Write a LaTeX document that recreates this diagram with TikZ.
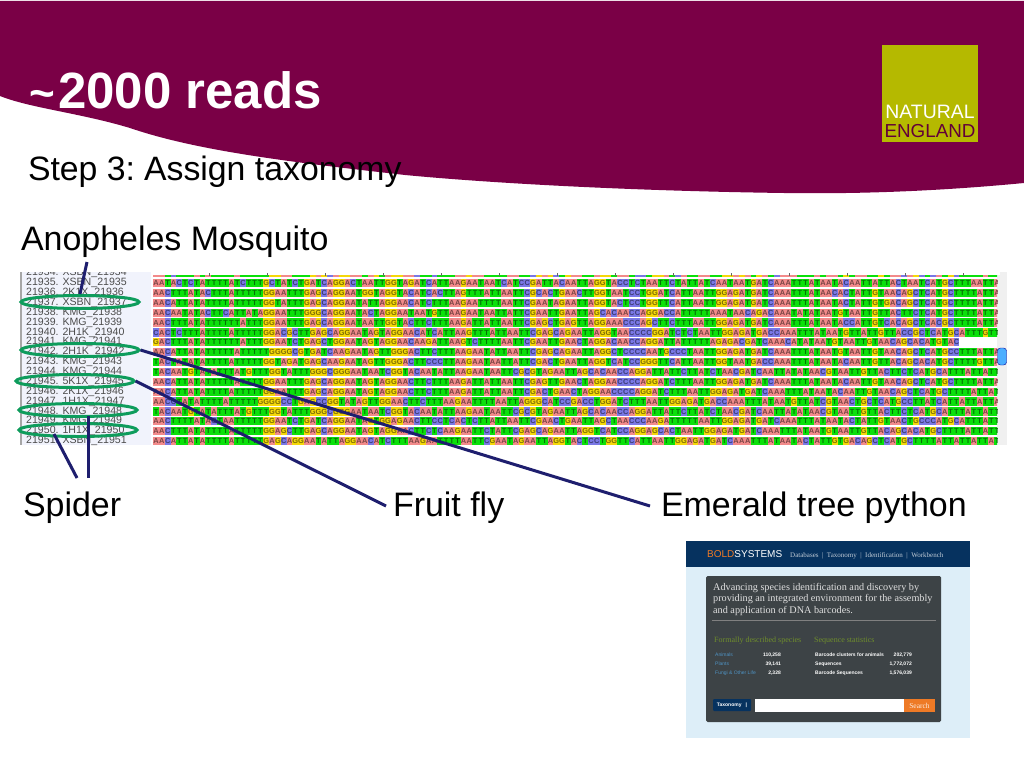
\documentclass[tikz,border=0pt]{standalone}
\usepackage{fontspec}
\usepackage{xcolor}
\setmainfont{Liberation Sans}
\newfontfamily\boldserif{Liberation Serif}
\usetikzlibrary{shapes.geometric}

\definecolor{banner}{HTML}{7A0046}
\definecolor{logoGreen}{HTML}{B5B900}
\definecolor{ringGreen}{HTML}{0E9C5C}
\definecolor{pointerBlue}{HTML}{1E1E6E}
\definecolor{listBack}{HTML}{F1F3FC}
\definecolor{cellA}{HTML}{F28A8A}
\definecolor{cellT}{HTML}{0BE00B}
\definecolor{cellC}{HTML}{7A78E6}
\definecolor{cellG}{HTML}{F5D80A}
\definecolor{boldHead}{HTML}{06325F}
\definecolor{boldSky}{HTML}{DDEEF8}
\definecolor{boldPanel}{HTML}{3D4346}
\definecolor{boldOlive}{HTML}{6F8E2C}
\definecolor{boldLink}{HTML}{4F93C4}
\definecolor{boldOrange}{HTML}{EE7A26}

\newcommand{\seqcell}[1]{\rlap{\textcolor{cell#1}{\rule[-1.5pt]{5.8pt}{8.2pt}}}\makebox[5.8pt]{\textcolor{black!50!cell#1}{#1}}}
\def\seqwalk#1{\ifx#1\relax\else\seqcell{#1}\expandafter\seqwalk\fi}

\begin{document}
\begin{tikzpicture}[x=1pt, y=-1pt]
    \tikzstyle{Slide Text} = [anchor=base west, inner sep=0pt, outer sep=0pt, font=\fontsize{33.95}{34}\selectfont]
    \tikzstyle{Read Ring} = [draw=ringGreen, line width=3pt, ellipse, inner sep=0pt, minimum width=118pt, minimum height=13pt]
    \tikzstyle{Pointer} = [line width=3pt, color=pointerBlue]
    \tikzstyle{Read Name} = [anchor=west, inner sep=0pt, color=black!70, font=\fontsize{10.6}{10.6}\selectfont]
    \tikzstyle{Read Bases} = [anchor=west, inner sep=0pt, font=\fontsize{7.4}{7.4}\selectfont\bfseries]
    \tikzstyle{Bold Small} = [anchor=base west, inner sep=0pt, font=\fontsize{5}{5}\selectfont\bfseries, color=white]
    \tikzstyle{Bold Count} = [Bold Small, anchor=base east]
    \tikzstyle{Bold Blurb} = [anchor=base west, inner sep=0pt, color=white!88!black, font=\boldserif\fontsize{10.2}{10.2}\selectfont]
    \tikzstyle{Bold Menu} = [anchor=base west, inner sep=0pt, color=white!75!boldHead, font=\boldserif\fontsize{7}{7}\selectfont]

    \useasboundingbox (0,0) rectangle (1024,768);
    \fill[white] (0,0) rectangle (1024,768);

    \fill[banner] (0,1) -- (1024,1) -- (1024,183)
        .. controls (930,192) and (850,194) .. (784,193)
        .. controls (640,191) and (500,184) .. (405,175)
        .. controls (300,163) and (200,152) .. (130,128)
        .. controls (80,113) and (30,108) .. (0,96) -- cycle;
    \node[Slide Text, color=white, font=\fontsize{51}{51}\selectfont\bfseries] (title) at (29,108)
        {\makebox[29pt][l]{\fontsize{44}{44}\selectfont\textasciitilde}2000 reads};
    \node[Slide Text, font=\fontsize{33.8}{34}\selectfont] (step) at (28,180) {Step 3:\kern-3.5pt{} Assign taxonomy};

    \node[fill=logoGreen, inner sep=0pt, minimum width=96pt, minimum height=97pt] (logo) at (930,93.5) {};
    \node[text=white, inner sep=0pt, font=\fontsize{19.4}{19.4}\selectfont] (natural) at (930,112) {NATURAL};
    \node[text=banner!80!black, inner sep=0pt, font=\fontsize{18.8}{18.8}\selectfont] (england) at (930,131) {ENGLAND};

    \node[Slide Text] (mosquito) at (21,250) {Anopheles Mosquito};

    \fill[listBack] (20,272) rectangle (151,445);
    \fill[black!35] (20,272) rectangle (22,445);
    \fill[black!6] (997,272) rectangle (1007,445);
    \begin{scope}
        \clip (20,272) rectangle (997,445);
        \foreach \readName/\readBases [count=\i] in {
            21934. XSBN\_21934/AATCTTTATATTTTATTTTTGGAATTTGAGCAGGAATAGTAGGAACTTCTTTAAGAATTTTAATTCGAGCTGAATTAGGTAATCCTGGATCATTAATTGGAGATGATCAAATTTATAATGTAATTGTAACAGCTCATGCTTTTATTAT,
            21935. XSBN\_21935/AATACTCTATTTTATCTTTGCTATCTGATCAGGACTAATTGGTAGATCATTAAGAATAATCATCCGATTACAATTAGGTACCTCTAATTCTATTATCAATAATGATCAAATTTATAATACAATTATTACTAATCATGCTTTAATTAT,
            21936. 2K1X\_21936/AACTTTATACTTTATTTTTGGAATTTGAGCAGGAATGGTAGGTACATCACTTAGTTTATTAATTCGCACTGAACTTGGTAATCCTGGATCATTAATTGGAGATGATCAAATTTATAACACTATTGTAACAGCTCATGCTTTTATTAT,
            21937. XSBN\_21937/AACATTATATTTTATTTTTGGTATTTGAGCAGGAATATTAGGAACATCTTTAAGAATTTTAATTCGAATAGAATTAGGTACTCCTGGTTCATTAATTGGAGATGATCAAATTTATAATACTATTGTGACAGCTCATGCTTTTATTAT,
            21938. KMG\_21938/AACAATATACTTCATTATAGGAATTTGGGCAGGAATACTAGGAATAATGTTAAGAATAATTATTCGAATTGAATTAGCACAACCAGGACCATTTTTAAATAACAGACAAATATATAATGTAATTGTTACTTCTCATGCTTTTATTAT,
            21939. KMG\_21939/AACTTTATATTTTTTATTTGGAATTTGAGCAGGAATAATTGGTACTTCTTTAAGATTATTAATTCGAGCTGAGTTAGGAAACCCAGCTTCTTTAATTGGAGATGATCAAATTTATAATACCATTGTCACAGCTCACGCTTTTATTAT,
            21940. 2H1K\_21940/CACTCTTTATTTTATTTTTGGACGCTTGAGCAGGAATAGTAGGAACATCATTAAGTTTATTAATTCGAGCAGAATTAGGTAACCCCGGATCTCTAATTGGAGATGACCAAATTTATAATGTTATTGTTACCGCTCATGCATTTGTTAT,
            21941. KMG\_21941/GACTTTATATTTTTTATTTGGAATCTGAGCTGGAATAGTAGGAACAAGATTAAGTCTTTTAATTCGAATTGAACTAGGACAACCAGGATTATTTTTAGAGACGATCAAACATATAATGTAATTGTAACAGCACATGTAC,
            21942. 2H1K\_21942/AACATTATATTTTTATTTTTGGGGCGTGATCAAGAATAGTTGGGACTTCTTTAAGAATATTAATTCGAGCAGAATTAGGCTCCCCAATGCCCTAATTGGAGATGATCAAATTTATAATGTAATTGTAACAGCTCATGCCTTTATTATT,
            21943. KMG\_21943/TACTATATATTTTATTTTTGGTAGATGAGCAAGAATAGTTGGGACTTCCCTTAAGAATAATTATTCGACTGAATTAGGTCATCCGGGTTCATTAATTGGTAATGACCAAATTTATAATACAATTGTTACAGCACATGCTTTTGTTATT,
            21944. KMG\_21944/TACAATGTATATTTATGTTTGGTATTTGGGCGGGAATAATCGGTACAATATTAAGAATAATTCGCGTAGAATTAGCACAACCAGGATTATTCTTATCTAACGATCAATTATATAACGTAATTGTTACTTCTCATGCATTTATTATTAT,
            21945. 5K1X\_21945/AACATTATATTTTTATTTTGGAATTTGAGCAGGAATAGTAGGAACTTCTTTAAGATTATTAATTCGAGTTGAACTAGGAACCCCAGGATCTTTAATTGGAGATGATCAAATTTATAATACAATTGTAACAGCTCATGCTTTTATTATT,
            21946. 2K1X\_21946/AACATTATATTTTATTTTTGGAATTTGAGCAGGAATAGTAGGAACTTCTTTAAGATTATTAATTCGACTGAACTAGGAACCCCAGGATCTTTAATTGGAGATGATCAAATTTATAATACAATTGTAACAGCTCATGCTTTTATTATT,
            21947. 1H1X\_21947/AACCTATATTTTATTTTTGGGGCCTGAGCCGGTATAGTTGGAACTTCTTTAAGAATTTTAATTAGGGCATCCGACCTGGATCTTTAATTGGAGATGACCAAATTTATAATGTTATCGTAACTGCTCATGCCTTATCATTATTATTAT,
            21948. KMG\_21948/TACAATGTATATTTATGTTTGGTATTTGGGCGGGAATAATCGGTACAATATTAAGAATAATTCGCGTAGAATTAGCACAACCAGGATTATTCTTATCTAACGATCAATTATATAACGTAATTGTTACTTCTCATGCATTTATTATTAT,
            21949. KMG\_21949/AACTTTTATACTAATTTTTGGAATCTGATCAGGAATAGTGGAGAACTTCCTCACTCTTATTAATTCGAACTGAATTAGCTAACCCAAGATTTTTAATTGGAGATGATCAAATTTATAATACTATTGTAACTGCCCATGCATTTATTAT,
            21950. 1H1X\_21950/AACTTTATATTTTATTTTTGGAGCTTGAGCAGGAATAGTAGGAACTTCTCAAGAATTCTATTCGAGCAGAATTAGGTCATCCAGGAGCACTAATTGGAGATGATCAAATTTATAATGTAATTGTTACAGCACATGCTTTTATTATTAT,
            21951. XSBN\_21951/AACATTATATTTTATTTTTGAGCAGGAATATTAGGAACATCTTTAAGAATTTTAATTCGAATAGAATTAGGTACTCCTGGTTCATTAATTGGAGATGATCAAATTTATAATACTATTGTGACAGCTCATGCTTTTATTATTATTAT}
        {
            \node[Read Name] (name\i) at (26,{273.2+(\i-1)*9.875}) {\readName};
            \node[Read Bases] (bases\i) at (153,{273.2+(\i-1)*9.875}) {\expandafter\seqwalk\readBases\relax};
        }
    \end{scope}
    \fill[white] (153,270) rectangle (1000,275);
    \foreach \tick [count=\j] in {209,267,325,383,441,499,557,615,673,731,789,847,905,963}
    {
        \coordinate (tickTop\j) at (\tick,273);
        \coordinate (tickEnd\j) at (\tick,276);
        \draw[black!60, thin] (tickTop\j) -- (tickEnd\j);
    }
    \node[draw=blue!60!black, fill=blue!45!cyan!70, rounded corners=3pt, inner sep=0pt, minimum width=9pt, minimum height=17pt] (thumb) at (1002,356.5) {};

    \node[Read Ring] (ringMosquito) at (80,302) {};
    \node[Read Ring] (ringPython) at (80,350) {};
    \node[Read Ring] (ringFly) at (75,381) {};
    \node[Read Ring] (ringSpiderA) at (78,410) {};
    \node[Read Ring] (ringSpiderB) at (78,430) {};

    \node[Slide Text] (spider) at (23,516) {Spider};
    \node[Slide Text] (fly) at (393,516) {Fruit fly};
    \node[Slide Text] (python) at (661,516) {Emerald tree python};

    \coordinate (mosquitoFoot) at (87,262);
    \coordinate (spiderFootA) at (77,478);
    \coordinate (spiderFootB) at (88,478);
    \coordinate (ringTipA) at (88,416);
    \coordinate (ringTipB) at (54,434);
    \coordinate (flyFoot) at (386,506);
    \coordinate (pythonFoot) at (650,506);
    \draw[Pointer] (mosquitoFoot) -- (ringMosquito.north);
    \draw[Pointer] (ringTipB) -- (spiderFootA);
    \draw[Pointer] (ringTipA) -- (spiderFootB);
    \draw[Pointer] (ringFly.east) -- (flyFoot);
    \draw[Pointer] (ringPython.east) -- (pythonFoot);

    \fill[boldSky] (686,541) rectangle (970,738);
    \fill[boldHead] (686,541) rectangle (970,567);
    \fill[boldPanel, rounded corners=1.5pt] (706,576) rectangle (941,722);
    \node[anchor=base west, inner sep=0pt, font=\fontsize{10}{10}\selectfont] (boldLogo) at (707,557)
        {\textcolor{boldOrange}{BOLD}\textcolor{white}{SYSTEMS}};
    \begin{scope}
        \clip (686,541) rectangle (970,567);
        \node[Bold Menu] (boldMenu) at (790,557) {Databases \ | \ Taxonomy \ | \ Identification \ | \ Workbench};
    \end{scope}
    \node[Bold Blurb] (blurbA) at (713,590) {Advancing species identification and discovery by};
    \node[Bold Blurb] (blurbB) at (713,601.5) {providing an integrated environment for the assembly};
    \node[Bold Blurb] (blurbC) at (713,613) {and application of DNA barcodes.};
    \fill[black!50] (712,620) rectangle (936,621);
    \node[Bold Blurb, color=boldOlive, font=\boldserif\fontsize{8}{8}\selectfont] (headSpecies) at (714,642) {Formally described species};
    \node[Bold Blurb, color=boldOlive, font=\boldserif\fontsize{8}{8}\selectfont] (headStats) at (814,642) {Sequence statistics};
    \foreach \kind/\kindCount/\stat/\statCount [count=\k] in {
        Animals/110{,}258/Barcode clusters for animals/202{,}779,
        Plants/39{,}141/Sequences/1{,}772{,}072,
        Fungi \& Other Life/2{,}328/Barcode Sequences/1{,}576{,}039}
    {
        \node[Bold Small, color=boldLink, font=\fontsize{5}{5}\selectfont] (kind\k) at (715,{656.5+(\k-1)*9}) {\kind};
        \node[Bold Count] (kindCount\k) at (781,{656.5+(\k-1)*9}) {\kindCount};
        \node[Bold Small] (stat\k) at (815,{656.5+(\k-1)*9}) {\stat};
        \node[Bold Count] (statCount\k) at (912,{656.5+(\k-1)*9}) {\statCount};
    }
    \node[fill=boldHead, rounded corners=1pt, inner sep=0pt, minimum width=38pt, minimum height=12pt, text=white, font=\fontsize{5}{5}\selectfont\bfseries] (boldMenuBox) at (732,705) {Taxonomy \ \ \textbar};
    \node[fill=white, inner sep=0pt, minimum width=149pt, minimum height=13pt] (boldInput) at (829.5,705.5) {};
    \node[fill=boldOrange, inner sep=0pt, minimum width=31pt, minimum height=13pt, text=white!85!boldOrange, font=\boldserif\fontsize{7.5}{7.5}\selectfont] (boldSearch) at (919.5,705.5) {Search};
\end{tikzpicture}
\end{document}
